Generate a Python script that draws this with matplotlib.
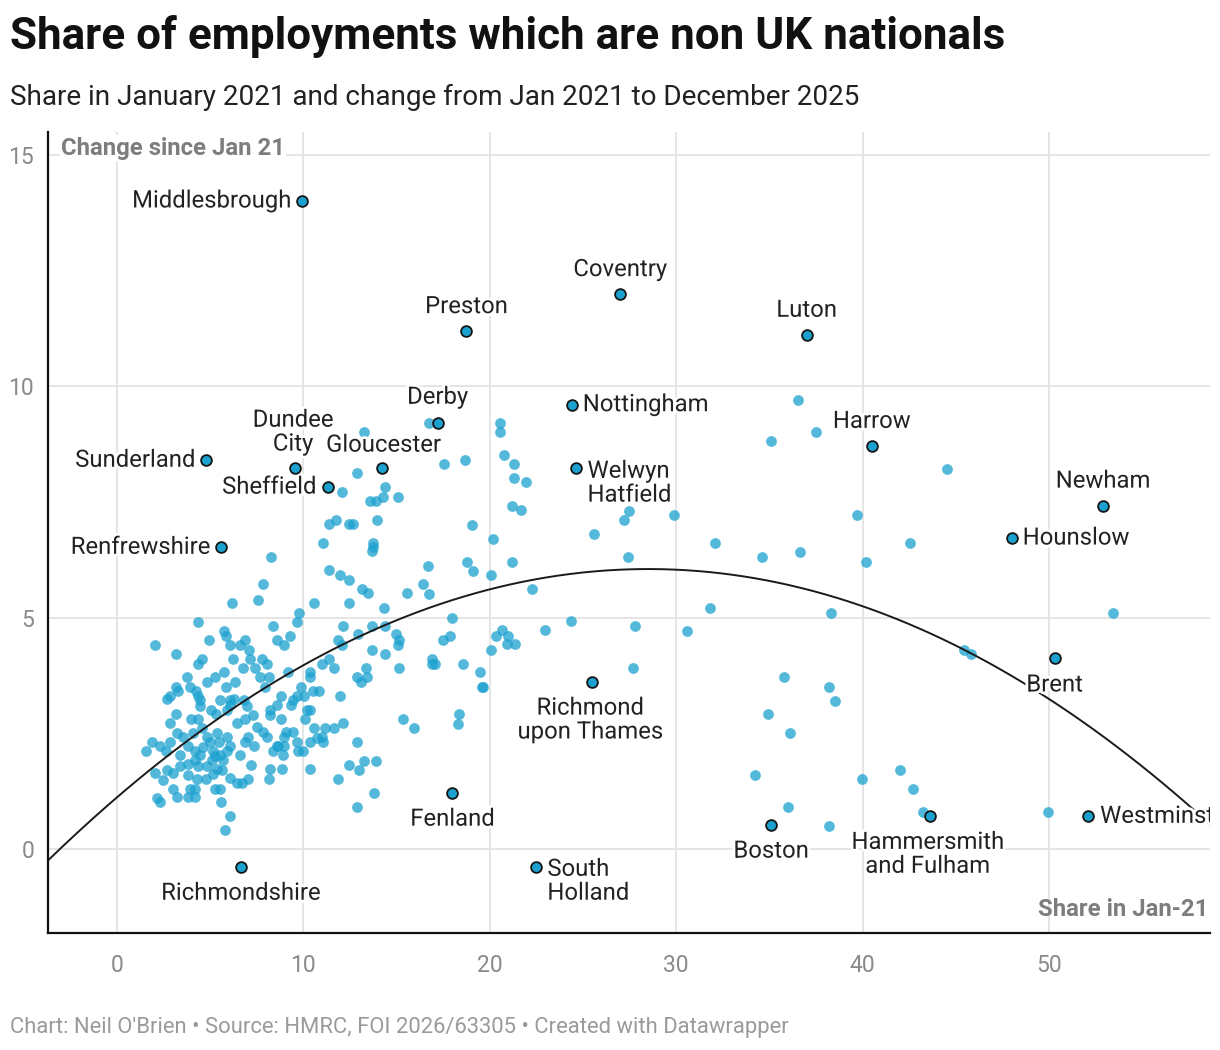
import matplotlib.pyplot as plt
import matplotlib.patheffects as pe
import numpy as np

plt.rcParams['font.family'] = ['Roboto', 'DejaVu Sans']

# Unlabelled areas: share of employments held by non UK nationals in Jan 2021 (%)
# and change in percentage points since then
share_jan21 = [
    6.16, 7.55, 10.57, 9.77, 9.68, 4.35, 8.36, 9.29, 8.57, 8.96, 2.06, 4.96, 5.74, 5.85, 6.07,
    6.60, 6.87, 7.07, 3.17, 4.55, 4.37, 6.25, 7.14, 7.77, 8.03, 6.78, 7.41, 9.20, 10.36, 10.99,
    11.40, 3.76, 4.85, 5.26, 5.74, 6.35, 5.85, 7.68, 8.18, 10.36, 3.17, 3.29, 2.70, 2.85, 3.92,
    4.24, 4.35, 4.46, 4.46, 5.53, 6.07, 6.28, 6.84, 6.96, 7.94, 8.79, 9.86, 9.64, 10.54, 10.86,
    9.47, 10.06, 9.36, 8.57, 8.21, 8.21, 10.18, 10.09, 10.36, 3.17, 2.85, 3.96, 4.37, 5.06, 5.32,
    5.89, 6.07, 6.46, 6.87, 7.28, 8.79, 7.50, 7.86, 8.03, 9.07, 9.47, 10.57, 11.18, 3.56, 3.20,
    4.10, 4.55, 4.81, 5.39, 5.49, 5.89, 6.07, 7.05, 7.35, 6.87, 8.57, 8.96, 8.98, 9.64, 10.00,
    9.73, 10.36, 10.99, 11.08, 1.56, 1.86, 2.31, 2.63, 2.85, 3.38, 3.83, 4.19, 4.46, 4.64, 4.99,
    5.17, 5.53, 5.89, 6.60, 8.39, 8.66, 8.89, 2.04, 2.49, 2.67, 3.03, 3.38, 3.83, 4.19, 4.37,
    4.85, 5.08, 5.26, 5.35, 5.71, 6.07, 6.42, 6.69, 7.05, 7.18, 8.21, 8.18, 8.86, 10.36, 3.83,
    4.28, 4.78, 5.17, 5.62, 3.03, 3.92, 4.19, 5.26, 5.53, 2.17, 2.31, 3.20, 3.83, 4.19, 5.57,
    6.07, 5.80,
    13.25, 12.86, 12.05, 14.38, 14.25, 13.57, 13.88, 15.06, 11.75, 11.36, 13.97, 12.46, 12.64,
    11.03, 13.75, 13.75, 13.66, 8.24, 7.85, 11.36, 11.96, 12.46, 13.16, 13.48, 15.58, 12.46,
    14.34, 12.14, 13.66, 14.97, 12.95,
    17.98, 14.38, 15.15, 15.06, 11.88, 12.06, 17.87, 17.48, 20.34, 20.07, 13.67, 14.38, 11.66,
    13.36, 12.86, 13.08, 13.40, 15.15, 16.89, 16.89, 17.07, 18.59, 19.48, 19.57, 19.66, 11.97,
    15.37, 15.96, 18.37, 18.28, 11.66, 12.15, 10.75, 12.86, 12.47, 12.97, 13.27, 13.88, 11.88,
    13.79, 12.86,
    16.75, 20.55, 20.55, 17.56, 18.67, 20.76, 21.28, 21.28, 21.94, 21.17, 21.67, 19.06, 20.15,
    18.76, 19.08, 20.06, 21.17, 16.66, 16.43, 16.75, 22.28, 24.36, 22.96, 20.64, 20.99, 21.35,
    20.90,
    36.51, 37.50, 35.10, 44.53, 27.47, 27.18, 29.87, 25.58, 39.72, 32.09, 27.39, 34.60, 36.62,
    42.52, 40.21, 53.45, 31.81, 38.32, 27.80, 30.59, 45.45, 45.83, 27.70, 35.81, 38.22, 38.51,
    34.91, 36.10, 34.21, 39.95, 42.02, 42.72, 36.00, 43.24, 49.94, 38.22,
]
change_since = [
    5.31, 5.38, 5.31, 5.11, 4.91, 4.91, 4.82, 4.61, 4.51, 4.42, 4.42, 4.51, 4.72, 4.61, 4.42,
    4.42, 4.51, 4.31, 4.21, 4.11, 4.01, 4.11, 4.11, 4.11, 4.01, 3.91, 3.91, 3.83, 3.83, 4.01,
    4.11, 3.72, 3.62, 3.72, 3.82, 3.62, 3.51, 3.71, 3.71, 3.71, 3.51, 3.41, 3.24, 3.31, 3.51,
    3.41, 3.31, 3.22, 3.09, 3.22, 3.22, 3.24, 3.22, 3.09, 3.51, 3.31, 3.51, 3.31, 3.41, 3.41,
    3.22, 3.31, 3.11, 3.11, 3.00, 2.90, 3.00, 2.81, 3.00, 2.91, 2.72, 2.82, 2.81, 3.00, 2.93,
    3.00, 3.11, 2.72, 2.82, 2.90, 2.81, 2.64, 2.54, 2.43, 2.53, 2.53, 2.62, 2.62, 2.43, 2.50,
    2.51, 2.62, 2.43, 2.51, 2.32, 2.43, 2.23, 2.43, 2.23, 2.32, 2.23, 2.43, 2.23, 2.32, 2.13,
    2.13, 2.32, 2.43, 2.32, 2.13, 2.32, 2.23, 2.13, 2.32, 2.03, 2.23, 2.13, 2.03, 2.21, 2.32,
    2.13, 2.03, 2.13, 2.03, 2.13, 2.23, 2.03, 1.64, 1.49, 1.71, 1.64, 1.80, 1.85, 1.92, 1.80,
    1.80, 1.92, 2.02, 1.74, 1.92, 1.53, 1.42, 1.42, 1.51, 1.82, 1.73, 1.51, 1.73, 1.73, 1.60,
    1.51, 1.51, 1.62, 1.71, 1.31, 1.31, 1.31, 1.31, 1.31, 1.11, 1.02, 1.12, 1.12, 1.12, 1.02,
    0.71, 0.41,
    9.02, 8.12, 7.72, 7.82, 7.61, 7.52, 7.52, 7.61, 7.12, 7.02, 7.12, 7.02, 7.02,
    6.62, 6.62, 6.53, 6.43, 6.32, 5.72, 6.02, 5.92, 5.81, 5.62, 5.53, 5.53, 5.32,
    5.22, 4.83, 4.83, 4.64, 4.64,
    5.00, 4.82, 4.52, 4.41, 4.51, 4.41, 4.61, 4.51, 4.61, 4.31, 4.31, 4.21, 3.91,
    3.91, 3.71, 3.62, 3.71, 3.91, 4.11, 4.01, 4.01, 4.01, 3.82, 3.51, 3.51, 3.31,
    2.81, 2.61, 2.91, 2.71, 2.61, 2.72, 2.41, 2.31, 1.82, 1.71, 1.91, 1.91, 1.51,
    1.22, 0.91,
    9.21, 9.21, 9.01, 8.31, 8.41, 8.51, 8.31, 8.01, 7.92, 7.41, 7.32, 7.01, 6.71,
    6.20, 6.01, 5.92, 6.20, 6.11, 5.72, 5.52, 5.61, 4.92, 4.73, 4.73, 4.61, 4.44,
    4.44,
    9.71, 9.01, 8.81, 8.21, 7.30, 7.11, 7.21, 6.80, 7.21, 6.61, 6.31, 6.31, 6.41,
    6.61, 6.21, 5.11, 5.21, 5.11, 4.81, 4.72, 4.31, 4.21, 3.92, 3.72, 3.51, 3.21,
    2.91, 2.51, 1.61, 1.51, 1.71, 1.31, 0.91, 0.81, 0.81, 0.51,
]

# Named areas
named_areas = ['Middlesbrough', 'Coventry', 'Preston', 'Luton', 'Derby', 'Nottingham',
               'Harrow', 'Sunderland', 'Dundee City', 'Gloucester', 'Welwyn Hatfield',
               'Sheffield', 'Newham', 'Hounslow', 'Renfrewshire', 'Brent',
               'Richmond upon Thames', 'Fenland', 'Boston', 'Hammersmith and Fulham',
               'Westminster', 'Richmondshire', 'South Holland']
named_share = [9.9, 27.0, 18.7, 37.0, 17.2, 24.4, 40.5, 4.8, 9.55, 14.2, 24.6,
               11.3, 52.9, 48.0, 5.6, 50.3, 25.5, 18.0, 35.1, 43.6, 52.1, 6.65, 22.5]
named_change = [14.0, 12.0, 11.2, 11.1, 9.2, 9.6, 8.7, 8.4, 8.23, 8.23, 8.23,
                7.82, 7.41, 6.72, 6.52, 4.13, 3.61, 1.21, 0.52, 0.71, 0.71, -0.39, -0.39]

# Quadratic trend line (coefficients)
trend_coef = [-0.00607, 0.346, 1.12]

# label placement: text, ha, dx, dy (pixels from the point)
label_place = {
    'Middlesbrough': ('Middlesbrough', 'right', -10, 0),
    'Coventry': ('Coventry', 'center', 0, 24),
    'Preston': ('Preston', 'center', 1, 24),
    'Luton': ('Luton', 'center', 0, 25),
    'Derby': ('Derby', 'center', 0, 26),
    'Nottingham': ('Nottingham', 'left', 11, 0),
    'Harrow': ('Harrow', 'center', 0, 25),
    'Sunderland': ('Sunderland', 'right', -11, 0),
    'Dundee City': ('Dundee\nCity', 'center', -2, 36),
    'Gloucester': ('Gloucester', 'center', 2, 23),
    'Welwyn Hatfield': ('Welwyn\nHatfield', 'left', 12, -15),
    'Sheffield': ('Sheffield', 'right', -11, 0),
    'Newham': ('Newham', 'center', 0, 25),
    'Hounslow': ('Hounslow', 'left', 11, 0),
    'Renfrewshire': ('Renfrewshire', 'right', -11, 0),
    'Brent': ('Brent', 'center', 0, -27),
    'Richmond upon Thames': ('Richmond\nupon Thames', 'center', -2, -38),
    'Fenland': ('Fenland', 'center', 0, -26),
    'Boston': ('Boston', 'center', 0, -26),
    'Hammersmith and Fulham': ('Hammersmith\nand Fulham', 'center', -2, -38),
    'Westminster': ('Westminster', 'left', 12, 0),
    'Richmondshire': ('Richmondshire', 'center', 0, -26),
    'South Holland': ('South\nHolland', 'left', 11, -14),
}

dot_color = '#1ba1cf'
grid_color = '#e3e3e3'
axis_gray = '#7d7d7d'

fig = plt.figure(figsize=(12.2, 10.5), dpi=100)
ax = fig.add_axes([48 / 1220, 1 - 933 / 1050, (1210 - 48) / 1220, (933 - 132) / 1050])

ax.set_xlim(-3.70, 58.64)
ax.set_ylim(-1.81, 15.49)

ax.set_xticks([0, 10, 20, 30, 40, 50])
ax.set_yticks([0, 5, 10, 15])
ax.grid(True, color=grid_color, linewidth=1.3, zorder=0)
ax.set_axisbelow(True)
ax.tick_params(axis='both', length=0, labelsize=16.5, labelcolor='#8a8a8a')
ax.tick_params(axis='x', pad=15)
ax.tick_params(axis='y', pad=10)
for side in ['top', 'right']:
    ax.spines[side].set_visible(False)
for side in ['left', 'bottom']:
    ax.spines[side].set_color('#111111')
    ax.spines[side].set_linewidth(1.6)

# unlabelled points
ax.scatter(share_jan21, change_since, s=60, color=dot_color, alpha=0.75,
           linewidths=0, zorder=2)

# trend line
xs = np.linspace(-3.70, 58.64, 300)
ax.plot(xs, np.polyval(trend_coef, xs), color='#1a1a1a', linewidth=1.4, zorder=3)

# named points + labels
halo = [pe.withStroke(linewidth=4, foreground='white')]
for name, xv, yv in zip(named_areas, named_share, named_change):
    txt, ha, dx, dy = label_place[name]
    ax.annotate(txt, (xv, yv), xytext=(dx, dy), textcoords='offset pixels',
                ha=ha, va='center', multialignment=ha,
                fontsize=17.2, color='#222222', linespacing=1.05,
                path_effects=halo, zorder=4, clip_on=True)
ax.scatter(named_share, named_change, s=60, color=dot_color, edgecolors='#151515',
           linewidths=1.3, zorder=5)

# axis titles inside the plot
fig.text(61 / 1220, 1 - 148 / 1050, 'Change since Jan 21',
         ha='left', va='center', fontsize=17.2, fontweight='bold', color=axis_gray,
         bbox=dict(facecolor='white', edgecolor='none', pad=1), zorder=6)
fig.text(1208 / 1220, 1 - 910 / 1050, 'Share in Jan-21',
         ha='right', va='center', fontsize=17.2, fontweight='bold', color=axis_gray,
         zorder=6)

fig.text(10 / 1220, 1 - 36 / 1050, 'Share of employments which are non UK nationals',
         ha='left', va='center', fontsize=31.7, fontweight='bold', color='#111111')
fig.text(10 / 1220, 1 - 97 / 1050,
         'Share in January 2021 and change from Jan 2021 to December 2025',
         ha='left', va='center', fontsize=20.1, color='#222222')
fig.text(10 / 1220, 1 - 1027 / 1050,
         "Chart: Neil O'Brien • Source: HMRC, FOI 2026/63305 • Created with Datawrapper",
         ha='left', va='center', fontsize=15.8, color='#9a9a9a')

fig.savefig('out.png', dpi=100)
